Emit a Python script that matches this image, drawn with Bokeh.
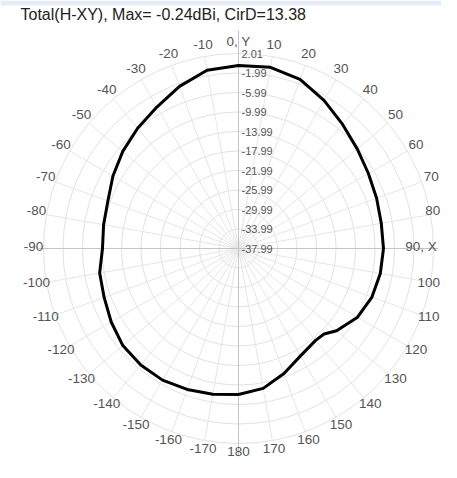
import numpy as np
from bokeh.plotting import figure
from bokeh.models import Range1d, Label
from bokeh.core.properties import value
from bokeh.embed import file_html
from bokeh.resources import INLINE

# ---- data ----
title_text = "Total(H-XY), Max= -0.24dBi, CirD=13.38"
angles_deg = [-180, -170, -160, -150, -140, -130, -120, -110, -100, -90, -80, -70, -60, -50,
              -40, -30, -20, -10, 0, 10, 20, 30, 40, 50, 60, 70, 80, 90, 100, 110, 120,
              130, 135, 140, 150, 160, 170]
gain_dbi = [-8.04, -7.63, -7.22, -6.81, -6.81, -7.02, -7.84, -8.66, -9.07, -10.09, -9.89, -9.48,
            -8.25, -7.00, -5.80, -4.50, -2.60, -0.86, -0.45, -0.24, -1.07, -2.91, -4.76, -6.20,
            -7.22, -7.84, -8.25, -8.25, -8.45, -8.86, -9.79, -11.73, -13.17, -13.38, -12.55,
            -10.71, -8.86]
ring_values = [2.01, -1.99, -5.99, -9.99, -13.99, -17.99, -21.99, -25.99, -29.99, -33.99, -37.99]
ring_labels = ["2.01", "-1.99", "-5.99", "-9.99", "-13.99", "-17.99", "-21.99", "-25.99",
               "-29.99", "-33.99", "-37.99"]
label_angles = list(range(0, 181, 10)) + list(range(-170, 0, 10))
label_texts = ["0, Y", "10", "20", "30", "40", "50", "60", "70", "80", "90, X", "100", "110",
               "120", "130", "140", "150", "160", "170", "180", "-170", "-160", "-150", "-140",
               "-130", "-120", "-110", "-100", "-90", "-80", "-70", "-60", "-50", "-40", "-30",
               "-20", "-10"]

# ---- geometry ----
r_min = min(ring_values)
r_max = max(ring_values)
R_OUT = 195.0
scale = R_OUT / (r_max - r_min)

def rad(db):
    return (np.asarray(db, dtype=float) - r_min) * scale

W, H = 441, 462
cx_px, cy_px = 238, 248
x0, x1 = -cx_px, W - cx_px
y0, y1 = -(H - cy_px), cy_px
p = figure(width=W, height=H, output_backend="svg", toolbar_location=None,
           x_range=Range1d(x0, x1), y_range=Range1d(y0, y1),
           min_border=0, outline_line_color=None, background_fill_color="white",
           border_fill_color="white")
p.axis.visible = False
p.grid.visible = False

# light band at top of the window
p.quad(left=x0, right=x1, top=y1, bottom=y1 - 5, fill_color="#e6ecf6", line_color=None)

# grid rings
ring_r = rad(ring_values)
for rr in ring_r:
    if rr > 0:
        p.circle(x=0, y=0, radius=float(rr), fill_color=None, line_color="#e2e2e2", line_width=1)

# radial lines
th = np.deg2rad(np.arange(0, 360, 10))
xs = [[0, float(R_OUT * np.sin(t))] for t in th]
ys = [[0, float(R_OUT * np.cos(t))] for t in th]
p.multi_line(xs, ys, line_color="#e6e6e6", line_width=1)

# main axes
p.segment(x0=[0, -200], y0=[-208, 0], x1=[0, 200], y1=[218, 0], line_color="#c4c4c4", line_width=1)

# pattern
a = np.deg2rad(np.array(angles_deg + [angles_deg[0]], dtype=float))
g = np.array(gain_dbi + [gain_dbi[0]])
rr = rad(g)
p.line(rr * np.sin(a), rr * np.cos(a), line_color="black", line_width=3, line_join="round")

# ring labels
p.text(x=[3] * len(ring_r), y=list(ring_r), text=ring_labels, text_align="left",
       text_baseline="middle", text_font=value("Liberation Sans"), text_font_size="11px",
       text_color="#555555")

# angle labels
fs = 13.5
la = np.deg2rad(np.array(label_angles, dtype=float))
R_LAB = 205.0
lx = R_LAB * np.sin(la)
ly = R_LAB * np.cos(la) + 2
half_w = np.array([0.29 * fs * len(t) for t in label_texts])
lx = np.minimum(lx, x1 - half_w - 1)
p.text(x=list(lx), y=list(ly), text=label_texts,
       text_align="center", text_baseline="middle", text_font=value("Liberation Sans"),
       text_font_size=f"{fs}px", text_color="#555555")

# title
p.add_layout(Label(x=x0 + 20, y=y1 - 14, text=title_text, text_baseline="middle",
                   text_font="Liberation Sans", text_font_size="16px", text_color="#222222"))

open("out.html", "w").write(file_html(p, INLINE))
